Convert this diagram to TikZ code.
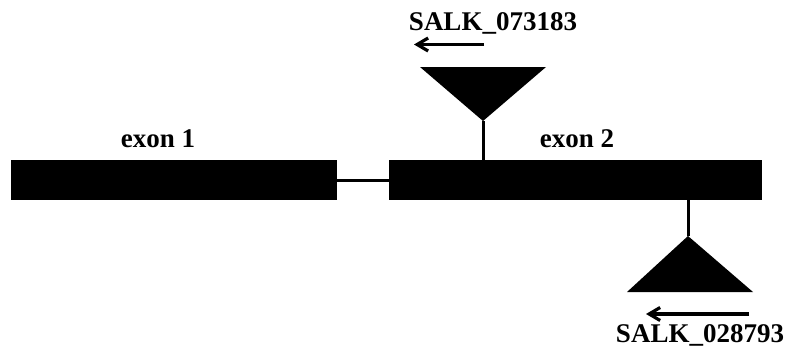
\documentclass[tikz,border=0pt]{standalone}
\usepackage{fontspec}
\setmainfont{Liberation Serif}
\usetikzlibrary{arrows.meta}
\begin{document}
\begin{tikzpicture}[x=1pt,y=-1pt,
  exonbox/.style={fill=black,draw=none,inner sep=0pt,minimum height=40pt},
  lbl/.style={font=\bfseries\fontsize{27}{30}\selectfont,inner sep=0pt,anchor=base},
  stem/.style={line width=3pt},
  dirarrow/.style={line width=3.2pt,-{Straight Barb[length=11pt,width=13pt,line width=3.2pt]}}]
\useasboundingbox (0,0) rectangle (790,356);
\node[exonbox,minimum width=326pt] (e1) at (174,180) {};
\node[exonbox,minimum width=373pt] (e2) at (575.5,180) {};
\draw[stem] (e1.east) -- (e2.west);
\node[lbl] (l1) at (158,147) {exon 1};
\node[lbl] (l2) at (577,147) {exon 2};
% top insertion
\coordinate (ta) at (483,121);
\coordinate (tl) at (420,67);
\coordinate (tr) at (546,67);
\fill (tl) -- (tr) -- (ta) -- cycle;
\draw[stem] (ta) -- (ta |- e2.north);
\coordinate (a1s) at (484,44.5);
\coordinate (a1e) at (414,44.5);
\draw[dirarrow] (a1s) -- (a1e);
\node[lbl] (s1) at (493,30.5) {SALK\_073183};
% bottom insertion
\coordinate (ba) at (688,236);
\coordinate (bl) at (627,292);
\coordinate (br) at (753,292);
\fill (bl) -- (br) -- (ba) -- cycle;
\draw[stem] (ba) -- (ba |- e2.south);
\coordinate (a2s) at (749,314);
\coordinate (a2e) at (646,314);
\draw[dirarrow] (a2s) -- (a2e);
\node[lbl] (s2) at (700,342) {SALK\_028793};
\end{tikzpicture}
\end{document}
